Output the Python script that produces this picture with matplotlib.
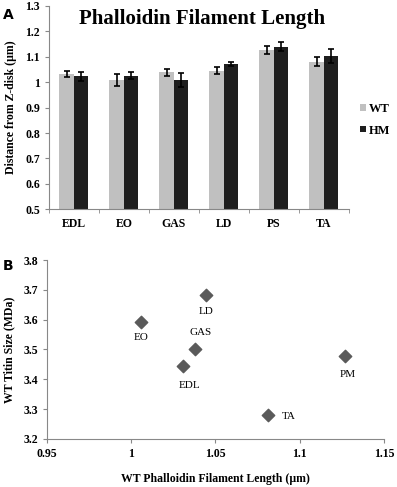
import matplotlib.pyplot as plt
import numpy as np

# panel A data
muscles = ["EDL", "EO", "GAS", "LD", "PS", "TA"]
wt_len = [1.032, 1.008, 1.039, 1.046, 1.127, 1.080]
wt_err = [0.013, 0.024, 0.015, 0.013, 0.017, 0.018]
hm_len = [1.023, 1.026, 1.010, 1.072, 1.140, 1.104]
hm_err = [0.018, 0.014, 0.027, 0.008, 0.018, 0.027]
y_ticks_a = [0.5, 0.6, 0.7, 0.8, 0.9, 1.0, 1.1, 1.2, 1.3]
y_labels_a = ["0.5", "0.6", "0.7", "0.8", "0.9", "1", "1.1", "1.2", "1.3"]

# panel B data
pts_names = ["EDL", "EO", "GAS", "LD", "TA", "PM"]
pts_len = [1.031, 1.006, 1.038, 1.0445, 1.081, 1.127]
pts_titin = [3.444, 3.591, 3.501, 3.682, 3.279, 3.478]
x_ticks_b = [0.95, 1.0, 1.05, 1.1, 1.15]
x_labels_b = ["0.95", "1", "1.05", "1.1", "1.15"]
y_ticks_b = [3.2, 3.3, 3.4, 3.5, 3.6, 3.7, 3.8]

plt.rcParams['font.family'] = ['Liberation Serif', 'DejaVu Serif']
fig = plt.figure(figsize=(3.97, 4.87), dpi=100)

# ---- panel A: bars
ax = fig.add_axes([0.1234, 0.5702, 0.7556, 0.4175])
x = np.arange(len(muscles))
w = 0.29
ax.bar(x - w/2, wt_len, w, color="#c0c0c0", label="WT", bottom=0)
ax.bar(x + w/2, hm_len, w, color="#1e1e1e", label="HM", bottom=0)
ax.errorbar(x - w/2, wt_len, yerr=wt_err, fmt="none", ecolor="black", elinewidth=1.2, capsize=2.5, capthick=1.2)
ax.errorbar(x + w/2, hm_len, yerr=hm_err, fmt="none", ecolor="black", elinewidth=1.2, capsize=2.5, capthick=1.2)
ax.set_ylim(0.5, 1.3)
ax.set_xlim(-0.5, 5.5)
ax.set_yticks(y_ticks_a)
ax.set_yticklabels(y_labels_a, fontsize=8.5, fontweight="bold")
ax.set_xticks(x)
ax.set_xticklabels(muscles, fontsize=8.5, fontweight="bold")
ax.tick_params(axis="x", length=0, pad=6)
ax.set_xticks(np.arange(-0.5, 6.0, 1.0), minor=True)
ax.tick_params(axis="x", which="minor", length=3, color="#888888")
ax.tick_params(axis="y", length=3, color="#888888")
ax.spines["right"].set_color("none")
ax.spines["top"].set_color("none")
ax.spines["left"].set_color("#888888")
ax.spines["bottom"].set_color("#888888")
ax.set_ylabel("Distance from Z-disk (\u00b5m)", fontsize=8.5, fontweight="bold", labelpad=6)
ax.text(0.51, 0.985, "Phalloidin Filament Length", transform=ax.transAxes, ha="center", va="top",
        fontsize=15, fontweight="bold")
ax.legend(loc="center left", bbox_to_anchor=(1.0, 0.44), frameon=False,
          prop={"weight": "bold", "size": 9}, handlelength=0.45, handleheight=0.45, handletextpad=0.25,
          labelspacing=0.75)
fig.text(0.008, 0.983, "A", fontsize=10, fontweight="bold", family="DejaVu Sans", va="top")

# ---- panel B: scatter
bx = fig.add_axes([0.1184, 0.0986, 0.8486, 0.3675])
bx.scatter(pts_len, pts_titin, marker="D", s=40, color="#5a5a5a", zorder=3)
offsets = {"EDL": (4, -14), "EO": (0, -11), "GAS": (4, 12), "LD": (0, -12),
           "TA": (15, -1), "PM": (2, -13)}
for n, xv, yv in zip(pts_names, pts_len, pts_titin):
    dx, dy = offsets[n]
    bx.annotate(n, (xv, yv), xytext=(dx, dy), textcoords="offset points",
                ha="center", va="center", fontsize=8)
bx.set_xlim(0.95, 1.15)
bx.set_ylim(3.2, 3.8)
bx.set_xticks(x_ticks_b)
bx.set_xticklabels(x_labels_b, fontsize=8.5, fontweight="bold")
bx.set_yticks(y_ticks_b)
bx.set_yticklabels([f"{v:.1f}" for v in y_ticks_b], fontsize=8.5, fontweight="bold")
bx.tick_params(length=3, color="#888888")
bx.spines["right"].set_color("none")
bx.spines["top"].set_color("none")
bx.spines["left"].set_color("#888888")
bx.spines["bottom"].set_color("#888888")
bx.set_xlabel("WT Phalloidin Filament Length (\u00b5m)", fontsize=8.5, fontweight="bold", labelpad=9)
bx.set_ylabel("WT Titin Size (MDa)", fontsize=8.5, fontweight="bold", labelpad=6)
fig.text(0.008, 0.468, "B", fontsize=10, fontweight="bold", family="DejaVu Sans", va="top")

fig.savefig("out.png", dpi=100)
